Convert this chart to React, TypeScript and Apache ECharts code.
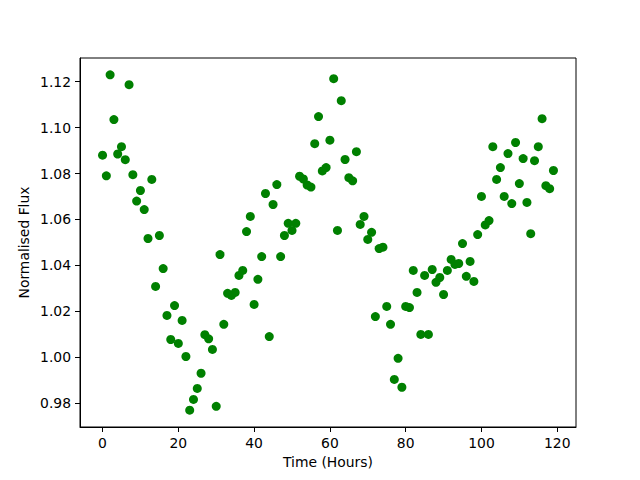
import React, { useEffect, useRef } from "react";
import * as echarts from "echarts";

const hours: number[] = Array.from({ length: 120 }, (_, i) => i);
const flux: number[] = [
  1.088, 1.079, 1.123, 1.1035, 1.0885, 1.0917, 1.086, 1.1187, 1.0795, 1.068,
  1.0726, 1.0643, 1.0517, 1.0774, 1.0308, 1.053, 1.0386, 1.0182, 1.0077, 1.0225,
  1.006, 1.016, 1.0003, 0.9769, 0.9816, 0.9864, 0.993, 1.0098, 1.008, 1.0034,
  0.9786, 1.0447, 1.0143, 1.0278, 1.0269, 1.0282, 1.0356, 1.0378, 1.0547, 1.0613,
  1.023, 1.0339, 1.0438, 1.0713, 1.009, 1.0665, 1.0752, 1.0438, 1.053, 1.0583,
  1.0552, 1.0583, 1.0788, 1.0776, 1.075, 1.0741, 1.093, 1.1048, 1.0811, 1.0826,
  1.0945, 1.1213, 1.0552, 1.1117, 1.0861, 1.0782, 1.0768, 1.0895, 1.0578, 1.0613,
  1.0513, 1.0544, 1.0177, 1.0473, 1.0479, 1.0221, 1.0143, 0.9903, 0.9995, 0.9869,
  1.0221, 1.0216, 1.0378, 1.0282, 1.0099, 1.0356, 1.0099, 1.0382, 1.0326, 1.0347,
  1.0273, 1.0378, 1.0426, 1.0404, 1.0408, 1.0495, 1.0352, 1.0417, 1.033, 1.0534,
  1.07, 1.0576, 1.0595, 1.0917, 1.0774, 1.0826, 1.07, 1.0887, 1.0669, 1.0935,
  1.0756, 1.0865, 1.0674, 1.0538, 1.0856, 1.0917, 1.1039, 1.0747, 1.0734, 1.0813,
];
const xTicks: number[] = [0, 20, 40, 60, 80, 100, 120];
const yTicks: number[] = [0.98, 1.0, 1.02, 1.04, 1.06, 1.08, 1.1, 1.12];

export default function App() {
  const ref = useRef<HTMLDivElement>(null);
  useEffect(() => {
    if (!ref.current) return;
    const chart = echarts.init(ref.current, null, { renderer: "svg" });
    const xMinD = Math.min(...hours), xMaxD = Math.max(...hours);
    const yMinD = Math.min(...flux), yMaxD = Math.max(...flux);
    const xPad = (xMaxD - xMinD) * 0.05;
    const yPad = (yMaxD - yMinD) * 0.05;
    const font = "DejaVu Sans";
    chart.setOption({
      animation: false,
      backgroundColor: "#fff",
      grid: {
        left: 80, right: 64, top: 58, bottom: 53,
        show: true, borderColor: "#000", borderWidth: 1, backgroundColor: "transparent",
      },
      xAxis: {
        type: "value",
        min: xMinD - xPad,
        max: xMaxD + xPad,
        name: "Time (Hours)",
        nameLocation: "middle",
        nameGap: 28,
        nameTextStyle: { fontFamily: font, fontSize: 13.9, color: "#000" },
        axisLine: { show: true, onZero: false, lineStyle: { color: "#000", width: 1 } },
        axisTick: { show: true, length: 5, customValues: xTicks, lineStyle: { color: "#000" } },
        axisLabel: {
          margin: 9, fontFamily: font, fontSize: 13.9, color: "#000",
          customValues: xTicks,
          formatter: (v: number) => String(v),
        },
        splitLine: { show: false },
      },
      yAxis: {
        type: "value",
        min: yMinD - yPad,
        max: yMaxD + yPad,
        name: "Normalised Flux",
        nameLocation: "middle",
        nameMoveOverlap: false,
        nameGap: 49,
        nameTextStyle: { fontFamily: font, fontSize: 13.9, color: "#000" },
        axisLine: { show: true, onZero: false, lineStyle: { color: "#000", width: 1 } },
        axisTick: { show: true, length: 5, customValues: yTicks, lineStyle: { color: "#000" } },
        axisLabel: {
          margin: 9, fontFamily: font, fontSize: 13.9, color: "#000",
          customValues: yTicks,
          formatter: (v: number) => v.toFixed(2),
        },
        splitLine: { show: false },
      },
      series: [
        {
          type: "scatter",
          data: hours.map((h, i) => [h, flux[i]]),
          symbol: "circle",
          symbolSize: 9,
          itemStyle: { color: "#008000", opacity: 1 },
        },
      ],
    });
    return () => chart.dispose();
  }, []);
  return <div ref={ref} style={{ width: 640, height: 480, position: "absolute", left: 0, top: 0 }} />;
}
